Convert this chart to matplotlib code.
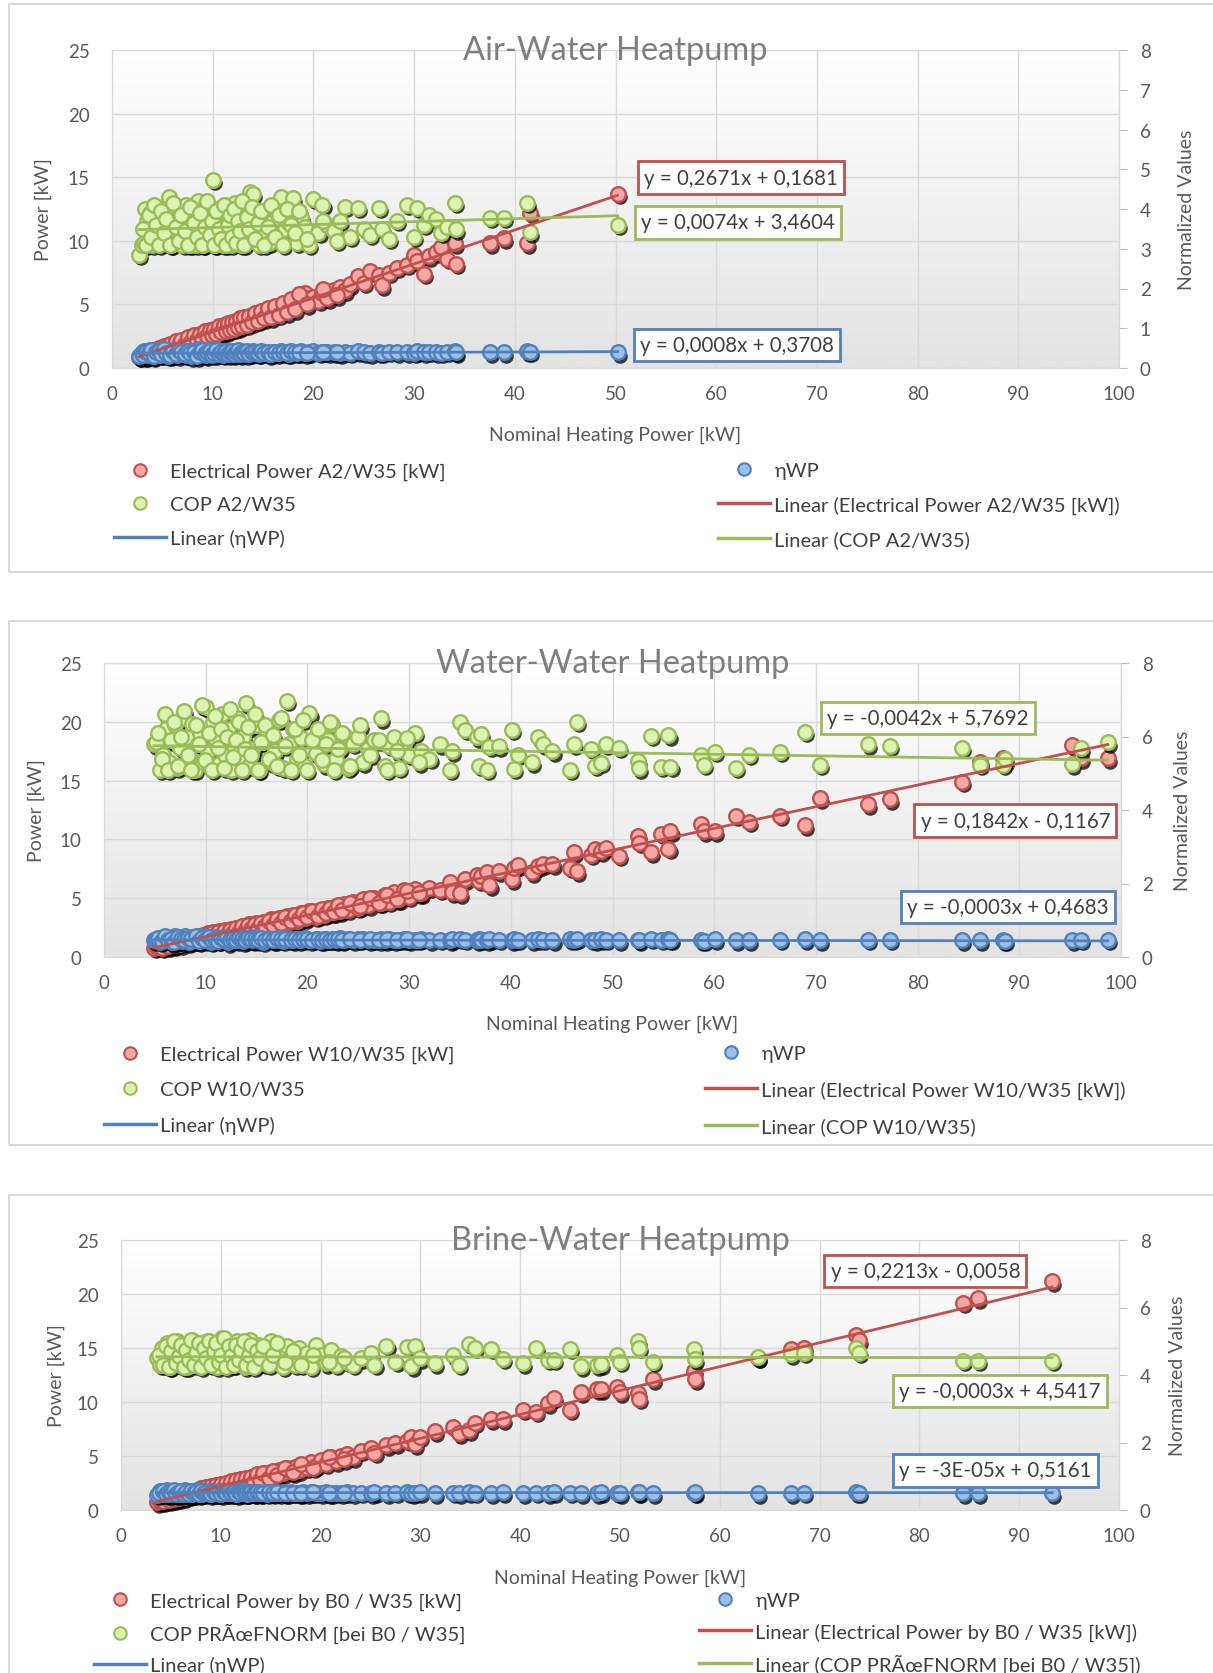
import numpy as np
import matplotlib
matplotlib.use("Agg")
import matplotlib.pyplot as plt
import matplotlib.transforms as mtransforms
from matplotlib.colors import LinearSegmentedColormap
from matplotlib.patches import Rectangle
from matplotlib.lines import Line2D

plt.rcParams['font.family'] = ['Lato', 'DejaVu Sans']

# ---------------- DATA ----------------
titles = ["Air-Water Heatpump", "Water-Water Heatpump", "Brine-Water Heatpump"]

# Panel 1: Air-Water
aw_x = [2.7, 3.0, 3.2, 3.3, 3.5, 3.6, 3.8, 4.0, 4.1, 4.3,
        4.5, 4.6, 4.8, 5.0, 5.1, 5.3, 5.5, 5.6, 5.7, 5.9,
        6.0, 6.2, 6.3, 6.5, 6.6, 6.8, 7.0, 7.1, 7.3, 7.4,
        7.6, 7.8, 7.9, 8.0, 8.2, 8.3, 8.5, 8.6, 8.8, 9.0,
        9.1, 9.3, 9.5, 9.6, 9.8, 10.0, 10.2, 10.4, 10.5, 10.7,
        10.9, 11.0, 11.2, 11.4, 11.6, 11.8, 12.0, 12.2, 12.4, 12.6,
        12.8, 13.0, 13.3, 13.5, 13.7, 14.0, 14.3, 14.6, 15.0, 15.3,
        15.6, 16.0, 16.4, 16.8, 17.2, 17.6, 18.0, 18.4, 18.8, 19.2,
        19.6, 20.0, 20.5, 20.9, 21.4, 22.0, 22.6, 23.1, 23.6, 24.4,
        25.0, 25.6, 26.5, 26.8, 27.5, 28.3, 29.3, 30.0, 30.3, 31.0,
        31.5, 32.2, 32.7, 33.3, 34.1, 34.2, 37.5, 38.9, 41.2, 41.5,
        50.2,
        3.1, 3.4, 3.7, 3.9, 4.2, 4.4, 4.7, 4.9, 5.2, 5.4,
        5.8, 6.1, 6.4, 6.7, 6.9, 7.2, 7.5, 7.7, 8.1, 8.4,
        8.7, 8.9, 9.2, 9.4, 9.7, 9.9, 10.1, 10.3, 10.6, 10.8,
        11.1, 11.3, 11.5, 11.7, 11.9, 12.1, 12.3, 12.5, 12.7, 12.9,
        13.1, 13.4, 13.6, 13.9, 14.2, 14.5, 14.8, 15.1, 15.5, 15.8,
        16.2, 16.6, 17.0, 17.4, 17.8, 18.2, 18.6, 19.4, 21.0, 22.3]
aw_elec = [0.9, 1.0, 0.9, 1.1, 1.0, 1.2, 1.1, 1.3, 1.2, 1.4,
           1.3, 1.5, 1.4, 1.6, 1.4, 1.6, 1.7, 1.5, 1.8, 1.7,
           1.8, 1.9, 1.7, 2.0, 1.9, 2.0, 2.1, 1.9, 2.2, 2.1,
           2.2, 2.3, 2.1, 2.4, 2.3, 2.4, 2.5, 2.3, 2.6, 2.5,
           2.6, 2.7, 2.5, 2.8, 2.7, 2.9, 2.8, 3.0, 2.9, 3.1,
           2.9, 3.2, 3.0, 3.2, 3.3, 3.1, 3.4, 3.3, 3.5, 3.3,
           3.6, 3.5, 3.7, 3.6, 3.9, 3.8, 4.0, 3.8, 4.2, 4.1,
           4.4, 4.3, 4.6, 4.5, 4.7, 5.0, 4.9, 5.6, 5.2, 5.9,
           5.5, 5.6, 5.3, 5.9, 5.5, 6.1, 6.4, 6.1, 6.6, 7.2,
           6.7, 7.6, 7.3, 6.5, 7.5, 7.9, 8.1, 8.9, 8.4, 7.4,
           8.8, 9.1, 9.5, 8.6, 9.8, 8.2, 9.8, 10.2, 9.8, 12.2,
           13.7,
           1.1, 0.9, 1.3, 1.1, 1.4, 1.2, 1.6, 1.3, 1.7, 1.5,
           1.9, 1.6, 2.1, 1.8, 2.2, 1.9, 2.4, 2.0, 2.6, 2.2,
           2.7, 2.3, 2.9, 2.5, 3.0, 2.6, 3.1, 2.7, 3.3, 2.8,
           3.4, 2.9, 3.5, 3.0, 3.6, 3.1, 3.7, 3.2, 3.9, 3.3,
           4.0, 3.4, 4.1, 3.6, 4.3, 3.7, 4.5, 3.9, 4.7, 4.0,
           4.9, 4.2, 5.1, 4.4, 5.4, 4.6, 5.8, 5.0, 6.2, 5.7]
aw_cop = [2.85, 3.1, 3.15, 4.0, 3.7, 3.4, 3.9, 3.1, 3.6, 3.95,
          3.3, 3.8, 3.5, 3.15, 4.0, 3.6, 3.3, 3.9, 4.29, 3.1,
          3.7, 3.45, 4.05, 3.2, 3.6, 3.9, 3.1, 3.5, 4.1, 3.3,
          3.75, 3.1, 4.0, 3.45, 3.65, 3.1, 4.2, 3.35, 3.8, 3.1,
          3.6, 4.15, 3.25, 3.9, 3.5, 4.74, 3.1, 3.7, 4.0, 3.3,
          3.55, 3.1, 4.1, 3.45, 3.8, 3.1, 3.6, 4.15, 3.3, 3.9,
          3.1, 3.5, 4.0, 3.2, 4.42, 4.38, 3.6, 3.1, 3.95, 3.4,
          3.15, 3.7, 3.9, 4.29, 3.5, 3.65, 4.27, 3.15, 3.8, 3.55,
          3.1, 4.26, 3.4, 4.1, 3.6, 3.45, 3.7, 4.06, 3.3, 4.03,
          3.5, 3.35, 4.03, 3.5, 3.25, 3.7, 4.1, 3.3, 4.03, 3.6,
          3.85, 3.75, 3.4, 3.55, 4.16, 3.49, 3.78, 3.78, 4.16, 3.42,
          3.6,
          3.5, 3.1, 3.85, 3.3, 4.1, 3.6, 3.1, 3.95, 3.4, 3.75,
          3.1, 4.15, 3.55, 3.2, 3.85, 3.45, 3.1, 4.05, 3.65, 3.3,
          3.9, 3.1, 3.55, 4.2, 3.35, 3.7, 3.1, 3.95, 3.5, 3.25,
          4.1, 3.1, 3.6, 3.85, 3.3, 4.0, 3.15, 3.7, 3.45, 4.2,
          3.1, 3.8, 3.5, 4.05, 3.25, 3.65, 3.95, 3.1, 3.55, 4.1,
          3.3, 3.85, 3.1, 4.0, 3.6, 3.4, 3.95, 3.25, 3.7, 3.2]
aw_eta = [0.30, 0.38, 0.42, 0.35, 0.40, 0.33, 0.45, 0.37, 0.30, 0.41,
          0.36, 0.44, 0.33, 0.39, 0.47, 0.35, 0.40, 0.31, 0.43, 0.37,
          0.34, 0.45, 0.39, 0.32, 0.41, 0.36, 0.46, 0.38, 0.33, 0.42,
          0.37, 0.30, 0.44, 0.39, 0.35, 0.41, 0.48, 0.34, 0.40, 0.36,
          0.43, 0.32, 0.38, 0.45, 0.37, 0.41, 0.34, 0.39, 0.46, 0.36,
          0.42, 0.33, 0.38, 0.44, 0.37, 0.40, 0.35, 0.43, 0.39, 0.36,
          0.42, 0.38, 0.34, 0.41, 0.37, 0.43, 0.39, 0.36, 0.41, 0.38,
          0.35, 0.40, 0.37, 0.43, 0.39, 0.36, 0.41, 0.38, 0.42, 0.37,
          0.40, 0.43, 0.38, 0.41, 0.39, 0.40, 0.37, 0.41, 0.38, 0.42,
          0.39, 0.37, 0.40, 0.38, 0.41, 0.39, 0.40, 0.38, 0.42, 0.39,
          0.41, 0.40, 0.38, 0.41, 0.42, 0.40, 0.40, 0.40, 0.42, 0.41,
          0.40,
          0.33, 0.41, 0.37, 0.45, 0.31, 0.39, 0.43, 0.35, 0.48, 0.38,
          0.32, 0.42, 0.36, 0.46, 0.39, 0.34, 0.44, 0.37, 0.41, 0.30,
          0.40, 0.45, 0.35, 0.39, 0.43, 0.33, 0.38, 0.46, 0.36, 0.41,
          0.37, 0.44, 0.34, 0.40, 0.42, 0.36, 0.39, 0.45, 0.35, 0.40,
          0.38, 0.43, 0.36, 0.41, 0.39, 0.37, 0.42, 0.38, 0.40, 0.36,
          0.41, 0.38, 0.40, 0.37, 0.42, 0.39, 0.40, 0.38, 0.41, 0.39]

# Panel 2: Water-Water
ww_x = [4.9, 5.1, 5.5, 5.8, 6.1, 6.4, 6.7, 7.0, 7.2, 7.5,
        7.7, 8.0, 8.2, 8.4, 8.7, 8.9, 9.2, 9.4, 9.7, 10.0,
        10.2, 10.5, 10.7, 11.0, 11.3, 11.6, 11.9, 12.2, 12.5, 12.8,
        13.1, 13.4, 13.7, 14.0, 14.3, 14.6, 14.9, 15.2, 15.6, 16.0,
        16.4, 16.8, 17.2, 17.6, 18.0, 18.2, 18.6, 19.0, 19.4, 19.8,
        20.2, 20.8, 21.2, 21.6, 22.0, 22.4, 22.8, 23.2, 23.6, 24.0,
        24.5, 25.0, 25.5, 26.0, 26.5, 27.2, 27.6, 28.0, 28.5, 29.0,
        29.5, 30.0, 30.6, 31.2, 32.0,
        33.0, 34.0, 34.2, 35.0, 35.5, 36.7, 36.9, 37.1, 37.7, 37.9,
        38.8, 40.1, 40.3, 40.7, 42.1, 42.7, 43.2, 44.1, 45.8, 46.2,
        46.5, 47.9, 48.3, 48.9, 49.4, 50.6, 52.5, 52.6, 53.8, 54.8,
        55.5, 55.7, 58.7, 59.0, 60.1, 62.1, 63.4, 66.5, 68.9, 70.4,
        75.1, 77.3, 84.4, 86.1, 88.4, 88.6, 95.2, 96.1, 98.7,
        5.3, 5.7, 6.0, 6.3, 6.6, 6.9, 7.3, 7.6, 7.9, 8.3,
        8.6, 9.0, 9.3, 9.6, 9.9, 10.3, 10.6, 10.9, 11.2, 11.5,
        11.8, 12.1, 12.4, 12.7, 13.0, 13.3, 13.6, 13.9, 14.2, 14.5,
        14.8, 15.1, 15.4, 15.8, 16.2, 16.6, 17.0, 17.4, 17.8, 18.4,
        18.8, 19.2, 19.6, 20.0, 20.5, 21.0, 21.4, 21.8, 22.2, 22.6,
        23.0, 23.4, 24.2, 25.2, 26.2, 27.0, 27.8, 28.8, 29.8, 31.0]
ww_elec = [0.8, 0.9, 1.0, 0.9, 1.2, 1.0, 1.3, 1.1, 1.4, 1.2,
           1.5, 1.3, 1.6, 1.4, 1.7, 1.4, 1.8, 1.5, 1.9, 1.6,
           2.0, 1.7, 2.1, 1.8, 2.2, 1.9, 2.3, 2.0, 2.4, 2.1,
           2.5, 2.2, 2.6, 2.3, 2.8, 2.4, 2.9, 2.5, 3.0, 2.6,
           3.2, 2.8, 3.3, 2.9, 3.5, 3.0, 3.6, 3.1, 3.7, 3.3,
           3.9, 3.4, 4.0, 3.6, 4.2, 3.8, 4.3, 3.9, 4.5, 4.0,
           4.7, 4.2, 4.9, 4.4, 5.0, 4.6, 5.3, 4.7, 5.5, 4.9,
           5.7, 5.1, 5.8, 5.4, 5.9,
           5.7, 6.4, 5.5, 5.4, 6.6, 7.0, 6.5, 6.9, 7.2, 6.1,
           7.3, 6.6, 7.6, 7.8, 7.2, 7.7, 7.9, 7.9, 7.6, 8.9,
           7.3, 8.7, 9.2, 9.0, 9.3, 8.6, 10.3, 9.7, 8.9, 10.5,
           9.2, 10.7, 11.3, 10.7, 10.7, 12.0, 11.5, 12.0, 11.2, 13.5,
           13.0, 13.4, 14.9, 16.6, 16.9, 16.6, 18.0, 16.9, 16.9,
           1.0, 0.8, 1.1, 0.9, 1.2, 1.0, 1.3, 1.1, 1.5, 1.2,
           1.6, 1.4, 1.7, 1.5, 1.9, 1.6, 2.0, 1.7, 2.1, 1.8,
           2.2, 1.9, 2.3, 2.0, 2.5, 2.1, 2.6, 2.2, 2.7, 2.4,
           2.8, 2.5, 2.9, 2.6, 3.1, 2.7, 3.2, 2.9, 3.4, 3.1,
           3.6, 3.2, 3.7, 3.4, 3.9, 3.5, 4.1, 3.7, 4.2, 3.8,
           4.4, 4.0, 4.6, 4.3, 5.0, 4.6, 5.3, 4.9, 5.6, 5.4]
ww_cop = [5.79, 5.85, 5.09, 5.5, 6.2, 5.3, 5.9, 6.3, 5.15, 5.7,
          6.5, 5.2, 6.0, 5.45, 6.35, 5.1, 5.8, 6.1, 5.3, 6.8,
          5.6, 5.15, 6.4, 5.9, 5.25, 6.6, 5.5, 6.2, 5.1, 5.75,
          6.5, 5.35, 6.0, 6.9, 5.2, 5.65, 6.3, 5.1, 5.85, 6.1,
          5.3, 5.6, 6.45, 5.15, 6.97, 5.8, 6.2, 5.4, 5.95, 5.2,
          6.63, 5.55, 6.1, 5.25, 5.9, 6.35, 5.4, 5.7, 6.05, 5.15,
          5.8, 6.0, 5.3, 5.65, 5.9, 6.5, 5.2, 5.75, 6.0, 5.15,
          5.8, 5.5, 6.1, 5.6, 5.4,
          5.79, 5.09, 5.6, 6.4, 6.18, 5.98, 5.2, 6.07, 5.1, 5.72,
          5.73, 6.18, 5.12, 5.5, 5.3, 5.98, 5.79, 5.6, 5.09, 5.79,
          6.4, 5.66, 5.2, 5.28, 5.79, 5.7, 5.32, 5.13, 6.02, 5.18,
          6.04, 5.18, 5.50, 5.23, 5.59, 5.15, 5.50, 5.59, 6.13, 5.23,
          5.79, 5.75, 5.70, 5.23, 5.23, 5.4, 5.25, 5.68, 5.84,
          6.1, 5.4, 6.6, 5.1, 5.9, 6.4, 5.2, 6.0, 6.7, 5.5,
          5.1, 6.3, 5.8, 6.85, 5.35, 6.1, 5.1, 6.55, 5.7, 6.2,
          5.15, 6.0, 6.75, 5.45, 5.9, 6.4, 5.1, 5.65, 6.25, 5.5,
          6.6, 5.1, 5.85, 6.3, 5.4, 6.05, 5.2, 6.5, 5.75, 5.1,
          6.2, 5.5, 6.45, 5.1, 5.9, 6.2, 5.35, 5.8, 6.4, 5.1,
          5.65, 6.1, 5.2, 6.3, 5.5, 5.9, 5.1, 5.6, 5.95, 5.3]
ww_eta = [0.45, 0.5, 0.42, 0.55, 0.47, 0.52, 0.4, 0.58, 0.46, 0.5,
          0.43, 0.56, 0.48, 0.41, 0.53, 0.47, 0.5, 0.44, 0.57, 0.46,
          0.51, 0.42, 0.49, 0.55, 0.45, 0.48, 0.52, 0.4, 0.47, 0.54,
          0.46, 0.5, 0.43, 0.52, 0.48, 0.45, 0.55, 0.47, 0.42, 0.5,
          0.49, 0.46, 0.53, 0.44, 0.51, 0.48, 0.45, 0.5, 0.47, 0.52,
          0.46, 0.49, 0.44, 0.5, 0.47, 0.48, 0.45, 0.51, 0.47, 0.49,
          0.46, 0.48, 0.5, 0.45, 0.47, 0.49, 0.46, 0.48, 0.45, 0.47,
          0.48, 0.46, 0.47, 0.49, 0.46,
          0.47, 0.46, 0.48, 0.49, 0.47, 0.46, 0.48, 0.47, 0.46, 0.48,
          0.47, 0.46, 0.48, 0.47, 0.46, 0.48, 0.47, 0.46, 0.48, 0.47,
          0.49, 0.47, 0.46, 0.48, 0.47, 0.46, 0.47, 0.45, 0.49, 0.47,
          0.48, 0.47, 0.46, 0.44, 0.48, 0.46, 0.46, 0.47, 0.48, 0.46,
          0.47, 0.47, 0.46, 0.46, 0.46, 0.44, 0.46, 0.47, 0.47,
          0.52, 0.44, 0.57, 0.47, 0.5, 0.42, 0.55, 0.48, 0.45, 0.53,
          0.49, 0.56, 0.43, 0.51, 0.47, 0.54, 0.46, 0.5, 0.44, 0.52,
          0.48, 0.55, 0.45, 0.5, 0.47, 0.53, 0.49, 0.46, 0.51, 0.48,
          0.5, 0.45, 0.52, 0.47, 0.49, 0.46, 0.51, 0.48, 0.5, 0.47,
          0.49, 0.46, 0.48, 0.5, 0.47, 0.49, 0.46, 0.48, 0.47, 0.49,
          0.48, 0.46, 0.49, 0.47, 0.48, 0.46, 0.49, 0.47, 0.48, 0.47]

# Panel 3: Brine-Water
bw_x = [3.6, 3.9, 4.1, 4.4, 4.6, 4.9, 5.1, 5.4, 5.6, 5.9,
        6.1, 6.4, 6.6, 6.9, 7.1, 7.4, 7.6, 7.9, 8.1, 8.4,
        8.6, 8.9, 9.1, 9.4, 9.6, 9.9, 10.1, 10.4, 10.6, 10.9,
        11.1, 11.4, 11.6, 11.9, 12.1, 12.4, 12.6, 12.9, 13.1, 13.4,
        13.7, 14.0, 14.3, 14.6, 15.0, 15.4, 15.8, 16.2, 16.6, 17.0,
        17.4, 17.8, 18.2, 18.6, 19.0, 19.5, 20.0, 20.5, 21.0, 21.5,
        22.0, 22.6, 23.2,
        24.0, 25.0, 25.4, 26.6, 27.5, 28.7, 29.1, 29.5, 30.0, 31.5,
        33.3, 33.9, 34.9, 35.5, 37.1, 38.3, 40.3, 41.6, 42.8, 43.4,
        45.0, 46.1, 47.7, 48.1, 49.7, 50.0, 51.8, 51.9, 53.3, 57.4,
        57.5, 63.8, 67.1, 68.4, 73.6, 73.9, 84.4, 85.9, 93.3,
        3.8, 4.2, 4.5, 4.8, 5.0, 5.3, 5.5, 5.8, 6.0, 6.3,
        6.5, 6.8, 7.0, 7.3, 7.5, 7.8, 8.0, 8.3, 8.5, 8.8,
        9.0, 9.3, 9.5, 9.8, 10.0, 10.3, 10.5, 10.8, 11.0, 11.3,
        11.5, 11.8, 12.0, 12.3, 12.5, 12.8, 13.0, 13.3, 13.6, 13.9,
        14.2, 14.8, 15.2, 15.6, 16.4, 17.2, 18.0, 19.2, 20.8, 22.3]
bw_elec = [0.7, 0.8, 1.0, 0.9, 1.1, 1.0, 1.2, 1.1, 1.3, 1.2,
           1.4, 1.3, 1.6, 1.4, 1.7, 1.5, 1.8, 1.6, 1.9, 1.7,
           2.0, 1.8, 2.1, 1.9, 2.3, 2.0, 2.4, 2.2, 2.5, 2.3,
           2.6, 2.4, 2.7, 2.5, 2.9, 2.6, 3.0, 2.7, 3.1, 2.8,
           3.2, 2.9, 3.4, 3.1, 3.5, 3.2, 3.7, 3.4, 3.9, 3.6,
           4.0, 3.7, 4.2, 3.9, 4.4, 4.1, 4.6, 4.3, 4.9, 4.5,
           5.0, 5.2, 4.9,
           5.5, 5.7, 5.3, 6.0, 6.2, 6.4, 6.8, 6.1, 6.8, 7.3,
           7.7, 7.1, 7.4, 8.1, 8.4, 8.4, 9.3, 9.1, 9.9, 10.4,
           9.3, 10.9, 11.2, 11.2, 11.4, 10.9, 10.8, 10.3, 12.1, 12.9,
           12.1, 14.1, 14.9, 15.0, 16.25, 15.7, 19.2, 19.6, 21.2,
           0.9, 0.8, 1.1, 0.9, 1.2, 1.0, 1.3, 1.1, 1.5, 1.2,
           1.6, 1.3, 1.7, 1.4, 1.8, 1.5, 2.0, 1.6, 2.1, 1.7,
           2.2, 1.8, 2.3, 1.9, 2.4, 2.0, 2.5, 2.1, 2.7, 2.2,
           2.8, 2.3, 2.9, 2.4, 3.0, 2.5, 3.1, 2.6, 3.3, 2.8,
           3.4, 3.0, 3.6, 3.2, 3.9, 3.5, 4.3, 3.9, 4.9, 4.7]
bw_cop = [4.49, 4.3, 4.8, 4.5, 4.95, 4.25, 4.7, 4.4, 5.0, 4.3,
          4.6, 4.85, 4.25, 4.7, 5.05, 4.4, 4.6, 4.9, 4.3, 4.75,
          5.0, 4.35, 4.6, 4.9, 4.25, 4.8, 5.1, 4.45, 4.7, 4.95,
          4.3, 4.65, 5.0, 4.4, 4.85, 4.25, 4.7, 5.05, 4.5, 4.3,
          4.9, 4.6, 4.35, 4.8, 5.0, 4.4, 4.7, 4.25, 4.85, 4.55,
          4.3, 4.8, 4.45, 4.65, 4.25, 4.9, 4.6, 4.35, 4.75, 4.3,
          4.55, 4.4, 4.3,
          4.5, 4.64, 4.3, 4.87, 4.4, 4.83, 4.26, 4.86, 4.5, 4.35,
          4.58, 4.3, 4.93, 4.8, 4.77, 4.48, 4.35, 4.8, 4.45, 4.45,
          4.77, 4.26, 4.29, 4.32, 4.6, 4.4, 5.0, 4.81, 4.39, 4.76,
          4.47, 4.52, 4.61, 4.66, 4.81, 4.66, 4.42, 4.42, 4.42,
          4.6, 4.3, 4.85, 4.25, 4.7, 5.0, 4.35, 4.55, 4.9, 4.25,
          4.75, 4.45, 5.05, 4.3, 4.65, 4.95, 4.25, 4.8, 4.5, 5.0,
          4.3, 4.7, 4.95, 4.4, 4.6, 5.1, 4.25, 4.85, 4.55, 4.3,
          4.9, 4.45, 4.75, 5.0, 4.3, 4.6, 4.9, 4.25, 4.7, 4.5,
          4.85, 4.3, 4.6, 4.95, 4.4, 4.7, 4.3, 4.6, 4.4, 4.5]
bw_eta = [0.45, 0.55, 0.48, 0.52, 0.6, 0.47, 0.53, 0.5, 0.57, 0.46,
          0.51, 0.58, 0.49, 0.54, 0.47, 0.52, 0.59, 0.5, 0.48, 0.55,
          0.52, 0.46, 0.57, 0.5, 0.53, 0.48, 0.56, 0.51, 0.49, 0.54,
          0.5, 0.55, 0.47, 0.52, 0.58, 0.5, 0.48, 0.53, 0.51, 0.49,
          0.54, 0.5, 0.52, 0.48, 0.53, 0.51, 0.49, 0.52, 0.5, 0.53,
          0.51, 0.49, 0.52, 0.5, 0.53, 0.51, 0.5, 0.52, 0.49, 0.51,
          0.5, 0.52, 0.5,
          0.51, 0.5, 0.52, 0.5, 0.51, 0.52, 0.5, 0.51, 0.52, 0.5,
          0.51, 0.5, 0.52, 0.51, 0.5, 0.52, 0.5, 0.51, 0.5, 0.52,
          0.51, 0.5, 0.5, 0.52, 0.51, 0.5, 0.53, 0.52, 0.49, 0.51,
          0.52, 0.5, 0.5, 0.51, 0.52, 0.51, 0.5, 0.5, 0.49,
          0.5, 0.57, 0.47, 0.54, 0.49, 0.58, 0.46, 0.52, 0.55, 0.48,
          0.53, 0.47, 0.56, 0.5, 0.52, 0.46, 0.55, 0.49, 0.53, 0.51,
          0.48, 0.54, 0.5, 0.57, 0.47, 0.52, 0.49, 0.55, 0.5, 0.53,
          0.48, 0.52, 0.5, 0.54, 0.49, 0.51, 0.53, 0.5, 0.52, 0.49,
          0.51, 0.53, 0.5, 0.52, 0.5, 0.51, 0.5, 0.52, 0.5, 0.51]

# Trendline coefficients (slope, intercept) as printed on the chart
aw_trend = {"elec": (0.2671, 0.1681), "cop": (0.0074, 3.4604), "eta": (0.0008, 0.3708)}
ww_trend = {"elec": (0.1842, -0.1167), "cop": (-0.0042, 5.7692), "eta": (-0.0003, 0.4683)}
bw_trend = {"elec": (0.2213, -0.0058), "cop": (-0.0003, 4.5417), "eta": (-3e-05, 0.5161)}

aw_eq = {"elec": "y = 0,2671x + 0,1681", "cop": "y = 0,0074x + 3,4604", "eta": "y = 0,0008x + 0,3708"}
ww_eq = {"elec": "y = 0,1842x - 0,1167", "cop": "y = -0,0042x + 5,7692", "eta": "y = -0,0003x + 0,4683"}
bw_eq = {"elec": "y = 0,2213x - 0,0058", "cop": "y = -0,0003x + 4,5417", "eta": "y = -3E-05x + 0,5161"}

aw_names = ("Electrical Power A2/W35 [kW]", "COP A2/W35")
ww_names = ("Electrical Power W10/W35 [kW]", "COP W10/W35")
bw_names = ("Electrical Power by B0 / W35 [kW]", "COP PRÃœFNORM [bei B0 / W35]")

y_left_ticks = [0, 5, 10, 15, 20, 25]
x_ticks = list(range(0, 101, 10))
y_right_ticks = [[0, 1, 2, 3, 4, 5, 6, 7, 8], [0, 2, 4, 6, 8], [0, 2, 4, 6, 8]]

# ---------------- STYLE / LAYOUT ----------------
W, H = 1213, 1674
fig = plt.figure(figsize=(W / 100, H / 100), dpi=100)

C = {"elec": ("#C0504D", "#F4A8A6"), "cop": ("#9BBB59", "#DCF2B0"), "eta": ("#4F81BD", "#9DBFE6")}
TXT = "#595959"

def frac_rect(l, t, r, b):
    return [l / W, 1 - b / H, (r - l) / W, (b - t) / H]

layout = [
    dict(plot=(112, 51, 1119, 369), box=(9, 5, 1240, 573), ylab=(-0.060, 1.059), xlab=-0.182,
         legL=(114, 506), legR=(718, 506), lsp=0.80,
         eqpos={"elec": (52.0, 14.97), "cop": (51.7, 11.45), "eta": (51.6, 1.8)}),
    dict(plot=(104, 664, 1121, 958), box=(9, 622, 1240, 1146), ylab=(-0.058, 1.052), xlab=-0.196,
         legL=(104, 1091), legR=(705, 1091), lsp=0.90,
         eqpos={"cop": (70.3, 20.3), "elec": (79.5, 11.6), "eta": (78.2, 4.27)}),
    dict(plot=(121, 1241, 1119, 1511), box=(9, 1196, 1240, 1700), ylab=(-0.056, 1.050), xlab=-0.216,
         legL=(94, 1634), legR=(699, 1634), lsp=0.64,
         eqpos={"elec": (70.3, 22.1), "cop": (77.2, 11.0), "eta": (77.2, 3.66)}),
]

datasets = [
    (aw_x, aw_elec, aw_cop, aw_eta, aw_trend, aw_eq, aw_names),
    (ww_x, ww_elec, ww_cop, ww_eta, ww_trend, ww_eq, ww_names),
    (bw_x, bw_elec, bw_cop, bw_eta, bw_trend, bw_eq, bw_names),
]

grad_cmap = LinearSegmentedColormap.from_list("bg", ["#FFFFFF", "#E3E3E3"])

for i, (lay, ds) in enumerate(zip(layout, datasets)):
    x, elec, cop, eta, trend, eqs, names = ds
    x = np.asarray(x)
    l, t, r, b = lay["box"]
    fig.patches.append(Rectangle((l / W, 1 - b / H), (r - l) / W, (b - t) / H,
                                 transform=fig.transFigure, fill=False,
                                 edgecolor="#D9D9D9", lw=1.5, zorder=0))
    rect = frac_rect(*lay["plot"])
    bg = fig.add_axes(rect, zorder=0)
    bg.imshow(np.linspace(0, 1, 256).reshape(-1, 1), cmap=grad_cmap, aspect="auto",
              extent=(0, 1, 0, 1), origin="upper")
    bg.axis("off")

    ax = fig.add_axes(rect, zorder=1)
    ax.patch.set_visible(False)
    ax.set_xlim(0, 100)
    ax.set_ylim(0, 25)
    ax.set_xticks(x_ticks)
    ax.set_yticks(y_left_ticks)
    ax.grid(True, color="#D9D9D9", lw=1.0, zorder=0)
    ax.set_axisbelow(True)
    for s in ax.spines.values():
        s.set_color("#D9D9D9")
    ax.tick_params(axis="both", length=0, labelsize=13.5, labelcolor=TXT)
    ax.tick_params(axis="y", pad=16)
    ax.tick_params(axis="x", pad=12)
    ax.set_ylabel("Power [kW]", fontsize=14, color=TXT)
    ax.yaxis.set_label_coords(lay["ylab"][0], 0.5)
    ax.set_xlabel("Nominal Heating Power [kW]", fontsize=14, color=TXT)
    ax.xaxis.set_label_coords(0.5, lay["xlab"])

    ax2 = ax.twinx()
    ax2.set_ylim(0, 8)
    ax2.set_yticks(y_right_ticks[i])
    ax2.tick_params(axis="y", length=6, color="#BFBFBF", labelsize=13.5, labelcolor=TXT, pad=9)
    for s in ax2.spines.values():
        s.set_visible(False)
    ax2.spines["right"].set_visible(True)
    ax2.spines["right"].set_color("#D9D9D9")
    ax2.set_ylabel("Normalized Values", fontsize=14, color=TXT)
    ax2.yaxis.set_label_coords(lay["ylab"][1], 0.5)

    # secondary-axis series are drawn on ax through a scaling transform (0-8 -> 0-25)
    sec = mtransforms.Affine2D().scale(1, 25 / 8) + ax.transData
    prim = ax.transData
    shadow = mtransforms.ScaledTranslation(1.5 / 72, -2.5 / 72, fig.dpi_scale_trans)

    series = [("elec", elec, prim), ("eta", eta, sec), ("cop", cop, sec)]
    z = 3
    for key, vals, tr in series:
        ax.plot(x, vals, "o", ms=10.5, color="black", alpha=0.75, mew=0,
                transform=tr + shadow, zorder=z, clip_on=False)
        ax.plot(x, vals, "o", ms=10.5, mfc=C[key][1], mec=C[key][0], mew=1.7,
                transform=tr, zorder=z + 0.5, clip_on=False)
        z += 1
    xr = np.array([x.min(), x.max()])
    for key, vals, tr in series:
        m, c0 = trend[key]
        ax.plot(xr, m * xr + c0, "-", color=C[key][0], lw=2.0, transform=tr, zorder=10)

    # equation labels
    for key in ("elec", "cop", "eta"):
        ex, ey = lay["eqpos"][key]
        ax.text(ex + 0.8, ey, eqs[key], fontsize=14.8, color="#404040", ha="left", va="center",
                zorder=12, bbox=dict(boxstyle="square,pad=0.3", fc="white", ec=C[key][0], lw=2.0))

    # title
    ax.text(0.5, 1.0, titles[i], transform=ax.transAxes, ha="center", va="center",
            fontsize=23.5, color="#7F7F7F", zorder=12)

    # legends (row-major 2 columns built as two single-column legends)
    def mk_marker(key):
        return Line2D([], [], ls="none", marker="o", ms=9, mfc=C[key][1], mec=C[key][0], mew=1.5)

    def mk_line(key):
        return Line2D([], [], color=C[key][0], lw=2.5)

    left_h = [mk_marker("elec"), mk_marker("cop"), mk_line("eta")]
    left_l = [names[0], names[1], "Linear (ηWP)"]
    right_h = [mk_marker("eta"), mk_line("elec"), mk_line("cop")]
    right_l = ["ηWP", "Linear (" + names[0] + ")", "Linear (" + names[1] + ")"]
    for hs, ls, (px, py) in ((left_h, left_l, lay["legL"]), (right_h, right_l, lay["legR"])):
        leg = fig.legend(hs, ls, loc="center left", bbox_to_anchor=(px / W, 1 - py / H),
                         frameon=False, fontsize=14.5, handlelength=2.6, handletextpad=0.2,
                         labelspacing=lay["lsp"], borderpad=0, borderaxespad=0, numpoints=1)
        for txt in leg.get_texts():
            txt.set_color("#404040")

fig.savefig("out.png", dpi=100, facecolor="white")
